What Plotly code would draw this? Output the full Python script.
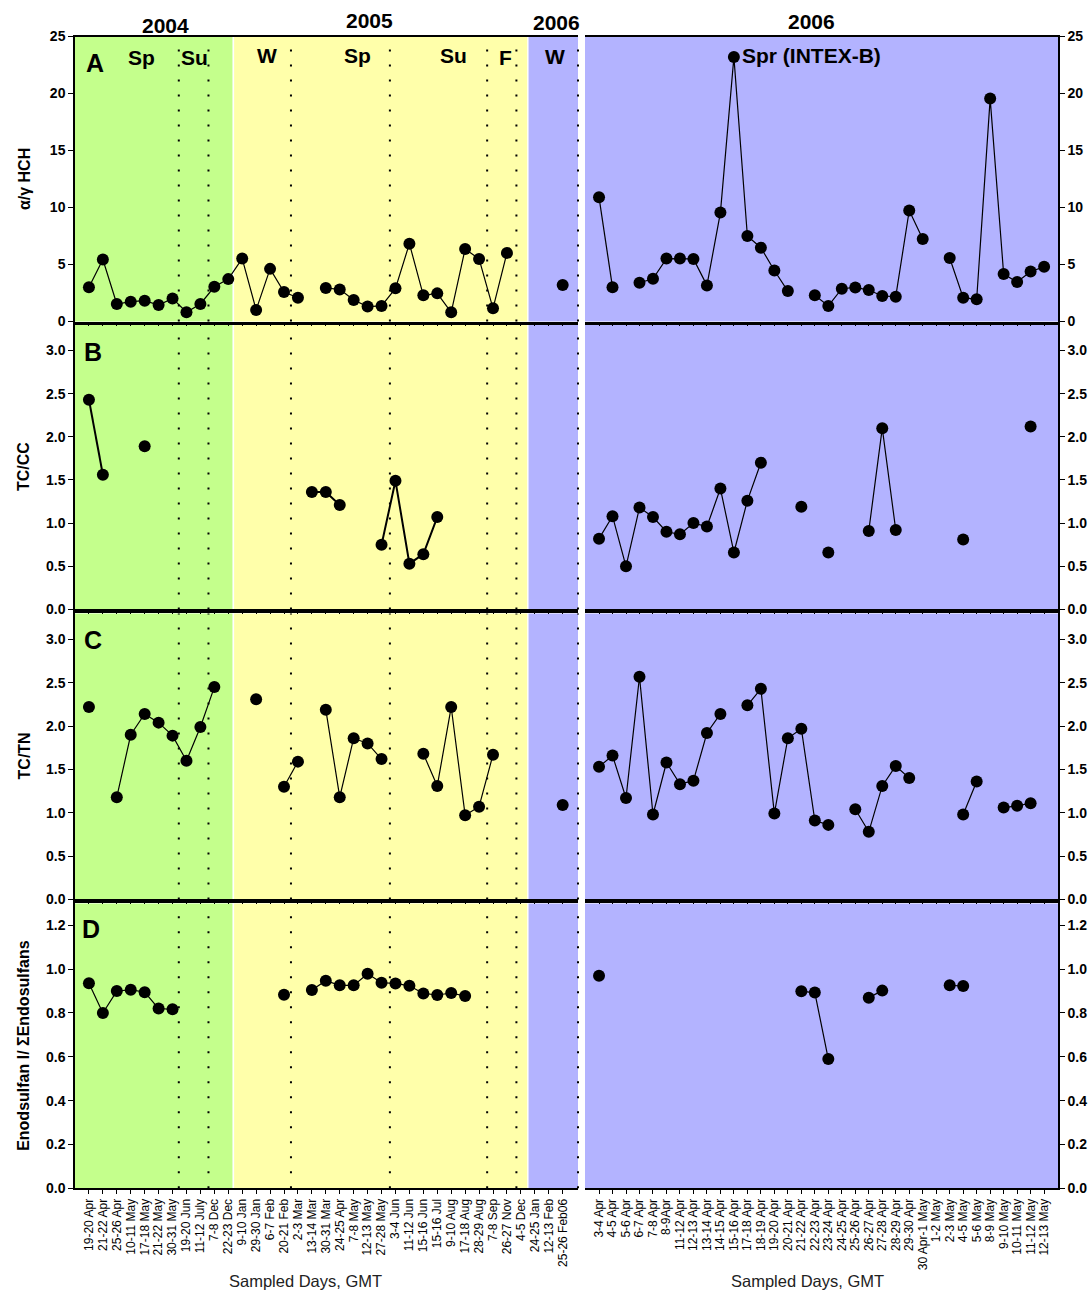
import plotly.graph_objects as go

W, H = 1092, 1291
FONT = "Liberation Sans, Arial, sans-serif"

# ---------------- data ----------------
left_days = ["19-20 Apr", "21-22 Apr", "25-26 Apr", "10-11 May", "17-18 May", "21-22 May",
             "30-31 May", "19-20 Jun", "11-12 July", "7-8 Dec", "22-23 Dec", "9-10 Jan",
             "29-30 Jan", "6-7 Feb", "20-21 Feb", "2-3 Mar", "13-14 Mar", "30-31 Mar",
             "24-25 Apr", "7-8 May", "12-13 May", "27-28 May", "3-4 Jun", "11-12 Jun",
             "15-16 Jun", "15-16 Jul", "9-10 Aug", "17-18 Aug", "28-29 Aug", "7-8 Sep",
             "26-27 Nov", "4-5 Dec", "24-25 Jan", "12-13 Feb", "25-26 Feb06"]

right_days = ["3-4 Apr", "4-5 Apr", "5-6 Apr", "6-7 Apr", "7-8 Apr", "8-9Apr", "11-12 Apr",
              "12-13 Apr", "13-14 Apr", "14-15 Apr", "15-16 Apr", "17-18 Apr", "18-19 Apr",
              "19-20 Apr", "20-21 Apr", "21-22 Apr", "22-23 Apr", "23-24 Apr", "24-25 Apr",
              "25-26 Apr", "26-27 Apr", "27-28 Apr", "28-29 Apr", "29-30 Apr", "30 Apr-1 May",
              "1-2 May", "2-3 May", "4-5 May", "5-6 May", "8-9 May", "9-10 May", "10-11 May",
              "11-12 May", "12-13 May"]

N = None
hch_left = [3.0, 5.44, 1.54, 1.74, 1.83, 1.45, 2.03, 0.81, 1.54, 3.05, 3.72, 5.52, 1.02, 4.62,
            2.59, 2.09, N, 2.94, 2.82, 1.89, 1.31, 1.37, 2.91, 6.83, 2.30, 2.47, 0.81, 6.37,
            5.49, 1.16, 6.02, N, N, N, 3.20]
hch_right = [10.9, 3.0, N, 3.4, 3.75, 5.52, 5.52, 5.49, 3.17, 9.56, 23.2, 7.5, 6.48, 4.48, 2.67,
             N, 2.30, 1.37, 2.88, 2.99, 2.76, 2.24, 2.18, 9.74, 7.24, N, 5.58, 2.09, 1.95, 19.56,
             4.16, 3.46, 4.39, 4.80]

tccc_left = [2.43, 1.56, N, N, 1.89, N, N, N, N, N, N, N, N, N, N, N, 1.36, 1.36, 1.21, N, N,
             0.75, 1.49, 0.53, 0.64, 1.07, N, N, N, N, N, N, N, N, N]
tccc_right = [0.82, 1.08, 0.50, 1.18, 1.07, 0.90, 0.87, 1.00, 0.96, 1.40, 0.66, 1.26, 1.70, N, N,
              1.19, N, 0.66, N, N, 0.91, 2.10, 0.92, N, N, N, N, 0.81, N, N, N, N, 2.12, N]

tctn_left = [2.22, N, 1.18, 1.90, 2.14, 2.04, 1.89, 1.60, 1.99, 2.45, N, N, 2.31, N, 1.30, 1.59,
             N, 2.19, 1.18, 1.86, 1.80, 1.62, N, N, 1.68, 1.31, 2.22, 0.97, 1.07, 1.67, N, N,
             N, N, 1.09]
tctn_right = [1.53, 1.66, 1.17, 2.57, 0.98, 1.58, 1.33, 1.37, 1.92, 2.14, N, 2.24, 2.43, 0.99,
              1.86, 1.97, 0.91, 0.86, N, 1.04, 0.78, 1.31, 1.54, 1.40, N, N, N, 0.98, 1.36, N,
              1.06, 1.08, 1.11, N]

endo_left = [0.936, 0.80, 0.90, 0.906, 0.895, 0.82, 0.817, N, N, N, N, N, N, N, 0.883, N, 0.905,
             0.947, 0.926, 0.926, 0.979, 0.938, 0.935, 0.924, 0.889, 0.882, 0.891, 0.877, N, N,
             N, N, N, N, N]
endo_right = [0.970, N, N, N, N, N, N, N, N, N, N, N, N, N, N, 0.899, 0.893, 0.590, N, N, 0.870,
              0.902, N, N, N, N, 0.926, 0.923, N, N, N, N, N, N]

y_titles = ["α/γ HCH", "TC/CC", "TC/TN", "Enodsulfan I/ ΣEndosulfans"]
panel_letters = ["A", "B", "C", "D"]
y_ranges = [[0, 25], [0, 3.3], [0, 3.3], [0, 1.3]]
y_dticks = [5, 0.5, 0.5, 0.2]
y_formats = ["d", ".1f", ".1f", ".1f"]

season_bounds = [6.45, 8.58, 14.5, 21.6, 28.58, 30.68]
green_span = [-1.0, 10.3]
yellow_span = [10.42, 31.45]
blue_span = [31.55, 35.1]
left_range = [-1.0, 35.1]
right_range = [-1.04, 34.03]

GREEN = "#C4FF8C"
YELLOW = "#FFFFAA"
BLUE = "#B3B3FF"

# ---------------- layout geometry (pixels) ----------------
LX = (75, 578)
RX = (585, 1058)
ROWS = [(36, 321), (324, 609), (613, 899), (903, 1188)]

# vertical calibration of the rendered paper area (measured from a render)
PAPER_TOP, PAPER_H = 7.4, 1275.3


def px(x):
    return x / W


def py(y):
    return 1 - (y - PAPER_TOP) / PAPER_H


fig = go.Figure()
layout = dict(width=W, height=H, margin=dict(l=0, r=0, t=0, b=0),
              paper_bgcolor="white", plot_bgcolor="white", showlegend=False,
              font=dict(family=FONT, color="black"))
shapes = []
annotations = []

panels = [(hch_left, hch_right), (tccc_left, tccc_right), (tctn_left, tctn_right),
          (endo_left, endo_right)]

for i, (lv, rv) in enumerate(panels):
    top, bot = ROWS[i]
    ydom = [py(bot), py(top)]
    for side, (vals, cats, xr, xdom) in enumerate([(lv, left_days, left_range, [px(LX[0]), px(LX[1])]),
                                                    (rv, right_days, right_range, [px(RX[0]), px(RX[1])])]):
        idx = 2 * i + side + 1
        xa = "x" if idx == 1 else f"x{idx}"
        ya = "y" if idx == 1 else f"y{idx}"
        xkey = "xaxis" if idx == 1 else f"xaxis{idx}"
        ykey = "yaxis" if idx == 1 else f"yaxis{idx}"
        lw = 2.0 if (i == 1 and side == 0) else 1.2
        fig.add_trace(go.Scatter(x=cats, y=vals, xaxis=xa, yaxis=ya, mode="lines+markers",
                                 connectgaps=False,
                                 line=dict(color="black", width=lw),
                                 marker=dict(color="black", size=12),
                                 hoverinfo="skip"))
        layout[xkey] = dict(domain=xdom, anchor=ya, type="category", range=xr,
                            tickmode="array", tickvals=cats, ticktext=cats,
                            showline=True, linecolor="black", linewidth=1.5, mirror=True,
                            ticks="outside", ticklen=3 if i < 3 else 4, tickcolor="black",
                            tickwidth=1,
                            showticklabels=(i == 3), tickangle=-90,
                            tickfont=dict(family=FONT, size=12, color="black"),
                            showgrid=False, zeroline=False)
        layout[ykey] = dict(domain=ydom, anchor=xa, range=y_ranges[i], dtick=y_dticks[i],
                            tick0=0, tickformat=y_formats[i],
                            side="left" if side == 0 else "right",
                            showline=True, linecolor="black", linewidth=1.5, mirror=False,
                            ticks="outside", ticklen=5, tickcolor="black",
                            tickfont=dict(family=FONT, size=14, color="black", weight="bold"),
                            showgrid=False, zeroline=False)
        if side == 0:
            for (x0, x1), col in [(green_span, GREEN), (yellow_span, YELLOW), (blue_span, BLUE)]:
                shapes.append(dict(type="rect", xref=xa, yref=f"{ya} domain", x0=x0, x1=x1,
                                   y0=0, y1=1, fillcolor=col, line=dict(width=0), layer="below"))
            for b in season_bounds:
                shapes.append(dict(type="line", xref=xa, yref=f"{ya} domain", x0=b, x1=b,
                                   y0=0, y1=1, line=dict(color="black", width=2, dash="2px,13px"),
                                   layer="below"))
            shapes.append(dict(type="line", xref=f"{xa} domain", yref=f"{ya} domain", x0=1, x1=1,
                               y0=0, y1=1, line=dict(color="black", width=2, dash="2px,13px"),
                               layer="above"))
        else:
            shapes.append(dict(type="rect", xref=f"{xa} domain", yref=f"{ya} domain", x0=0, x1=1,
                               y0=0, y1=1, fillcolor=BLUE, line=dict(width=0), layer="below"))


def txt(text, x, y, size, bold=True, xanchor="center", angle=0, color="black"):
    annotations.append(dict(text=text, x=px(x), y=py(y), xref="paper", yref="paper",
                            showarrow=False, xanchor=xanchor, yanchor="middle", textangle=angle,
                            font=dict(family=FONT, size=size, color=color,
                                      weight="bold" if bold else "normal")))


# years
txt("2004", 165, 25, 21)
txt("2005", 369, 20, 21)
txt("2006", 556, 22, 21)
txt("2006", 811, 21, 21)
# seasons
for s, x, y in [("Sp", 141, 57), ("Su", 194, 57), ("W", 267, 55), ("Sp", 357, 55),
                ("Su", 453, 55), ("F", 505, 57), ("W", 555, 56)]:
    txt(s, x, y, 21)
txt("Spr (INTEX-B)", 740, 55, 21, xanchor="left")
# panel letters
for letter, (x, y) in zip(panel_letters, [(95, 62), (93, 351), (93, 640), (91, 929)]):
    txt(letter, x, y, 25)
# y titles
for t, (top, bot) in zip(y_titles, ROWS):
    txt(t, 24, (top + bot) / 2, 16, angle=-90)
# x titles
txt("Sampled Days, GMT", 305, 1281, 16.5, bold=False, color="#222222")
txt("Sampled Days, GMT", 807, 1281, 16.5, bold=False, color="#222222")

layout["shapes"] = shapes
layout["annotations"] = annotations
fig.update_layout(**layout)
fig.write_html("out.html")
